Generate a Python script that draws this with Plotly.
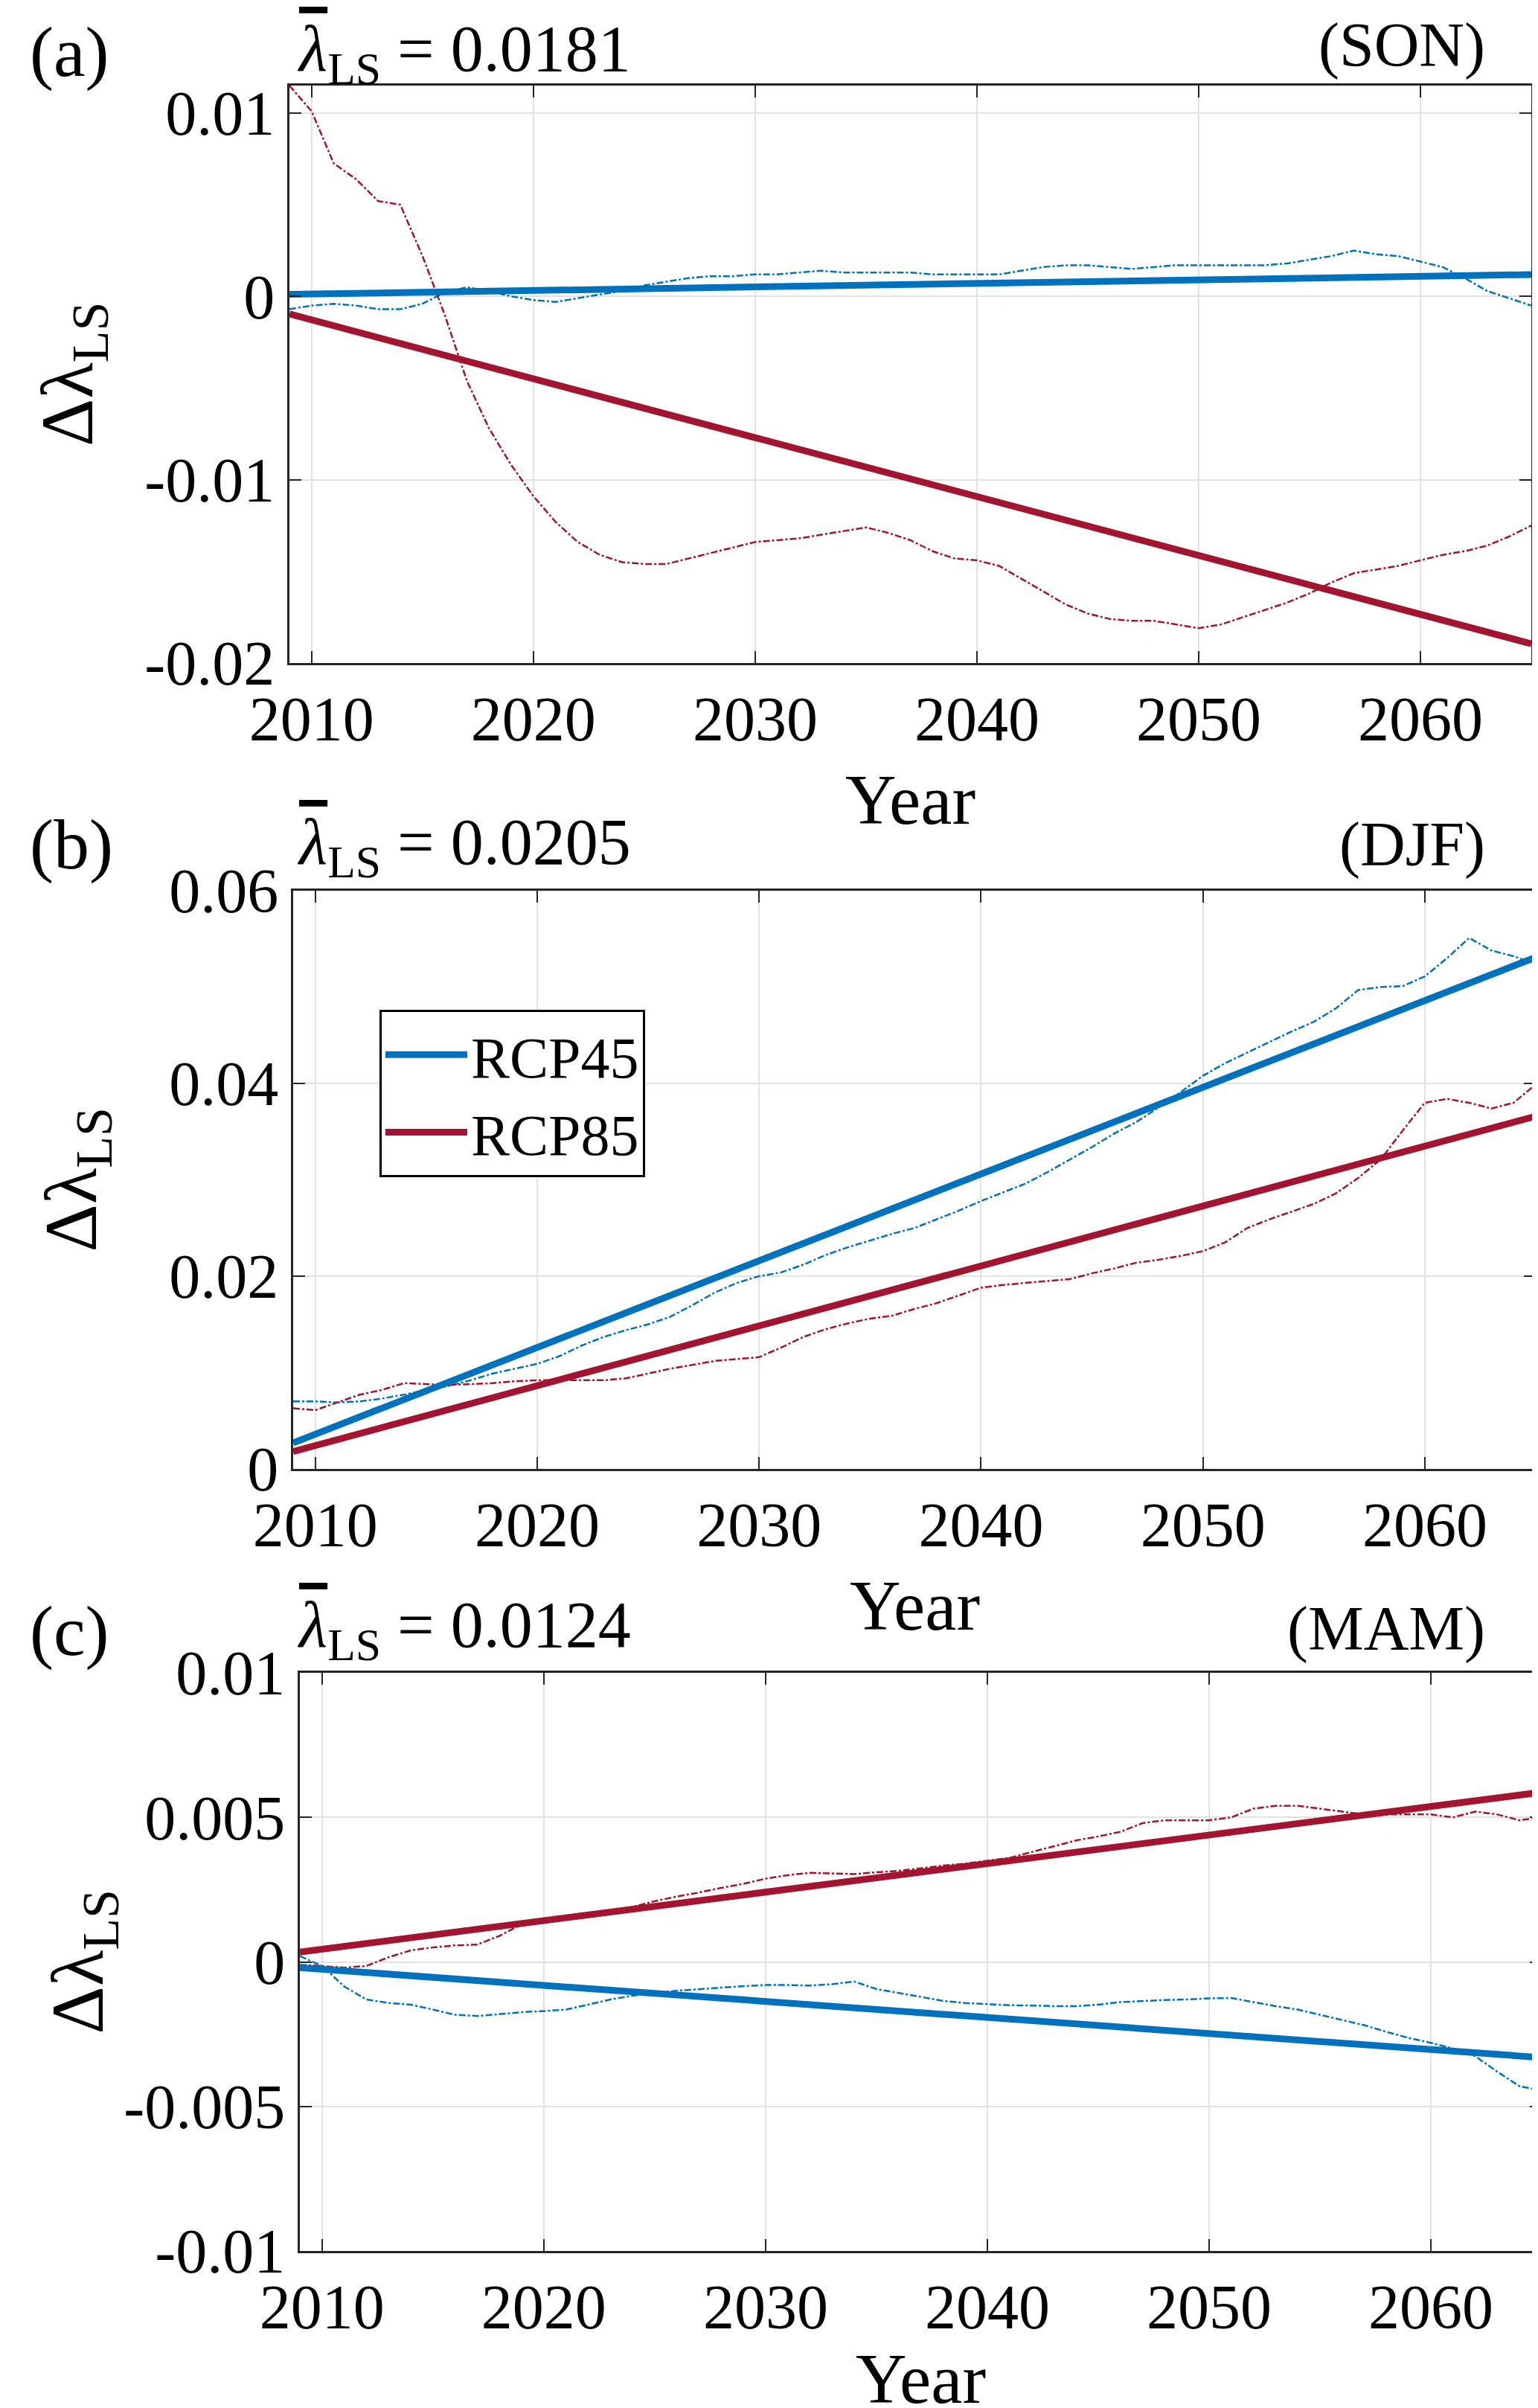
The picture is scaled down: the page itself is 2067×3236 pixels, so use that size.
import plotly.graph_objects as go

#%% Data

years = list(range(2009, 2066))
trend_years = [2009, 2065]

# (a) SON
son_rcp45 = [-0.0007, -0.0005, -0.0004, -0.0005, -0.0007, -0.0007, -0.0004, 0.0002, 0.0005, 0.0003,
             0.0000, -0.0002, -0.0003, -0.0001, 0.0001, 0.0003, 0.0006, 0.0008, 0.0010, 0.0011,
             0.0011, 0.0012, 0.0012, 0.0013, 0.0014, 0.0013, 0.0013, 0.0013, 0.0013, 0.0012,
             0.0012, 0.0012, 0.0012, 0.0014, 0.0016, 0.0017, 0.0017, 0.0016, 0.0015, 0.0016,
             0.0017, 0.0017, 0.0017, 0.0017, 0.0017, 0.0018, 0.0020, 0.0022, 0.0025, 0.0023,
             0.0022, 0.0019, 0.0016, 0.0010, 0.0003, -0.0001, -0.0005]
son_rcp85 = [0.0115, 0.0101, 0.00725, 0.0064, 0.0052, 0.0050, 0.0022, -0.0010, -0.0046, -0.0072,
             -0.0092, -0.0109, -0.0123, -0.0134, -0.0141, -0.0145, -0.0146, -0.0146, -0.0143, -0.0140,
             -0.0137, -0.0134, -0.0133, -0.0132, -0.0130, -0.0128, -0.0126, -0.0129, -0.0133, -0.0139,
             -0.0143, -0.0144, -0.0147, -0.0154, -0.0161, -0.0168, -0.0173, -0.0176, -0.0177, -0.0177,
             -0.0179, -0.0181, -0.0179, -0.0175, -0.0171, -0.0167, -0.0162, -0.0156, -0.0151, -0.0149,
             -0.0147, -0.0144, -0.0141, -0.0139, -0.0136, -0.0131, -0.0125]
son_trend45 = [0.00011, 0.00119]
son_trend85 = [-0.00096, -0.01895]

# (b) DJF
djf_rcp45 = [0.0070, 0.0070, 0.0069, 0.0070, 0.0073, 0.0077, 0.0082, 0.0086, 0.0092, 0.0099,
             0.0104, 0.0109, 0.0117, 0.0128, 0.0137, 0.0144, 0.0150, 0.0158, 0.0170, 0.0183,
             0.0193, 0.0200, 0.0204, 0.0212, 0.0222, 0.0230, 0.0237, 0.0244, 0.0250, 0.0259,
             0.0268, 0.0278, 0.0287, 0.0296, 0.0308, 0.0321, 0.0334, 0.0348, 0.0360, 0.0375,
             0.0391, 0.0408, 0.0421, 0.0432, 0.0443, 0.0454, 0.0464, 0.0478, 0.0497, 0.0500,
             0.0501, 0.0511, 0.0530, 0.0551, 0.0538, 0.0532, 0.0524]
djf_rcp85 = [0.0063, 0.0061, 0.0069, 0.0077, 0.0082, 0.0089, 0.0088, 0.0087, 0.0088, 0.0089,
             0.0091, 0.0092, 0.0092, 0.0092, 0.0092, 0.0094, 0.0099, 0.0104, 0.0108, 0.0112,
             0.0114, 0.0116, 0.0126, 0.0137, 0.0145, 0.0151, 0.0156, 0.0159, 0.0166, 0.0172,
             0.0180, 0.0188, 0.0191, 0.0193, 0.0195, 0.0197, 0.0203, 0.0208, 0.0214, 0.0217,
             0.0221, 0.0226, 0.0235, 0.0250, 0.0259, 0.0267, 0.0275, 0.0286, 0.0302, 0.0321,
             0.0351, 0.0380, 0.0384, 0.0380, 0.0374, 0.0380, 0.0399]
djf_trend45 = [0.0027, 0.0531]
djf_trend85 = [0.0018, 0.0366]

# (c) MAM
mam_rcp45 = [0.0002, -0.00014, -0.00085, -0.0013, -0.00142, -0.00148, -0.00165, -0.00183, -0.00187, -0.0018,
             -0.00174, -0.0017, -0.00165, -0.00148, -0.0013, -0.00117, -0.00107, -0.0010, -0.00094, -0.00089,
             -0.00084, -0.0008, -0.0008, -0.00082, -0.00077, -0.00068, -0.00094, -0.00107, -0.00121, -0.00135,
             -0.00142, -0.00146, -0.0015, -0.00151, -0.00153, -0.00153, -0.00148, -0.00139, -0.00135, -0.00132,
             -0.0013, -0.00126, -0.00125, -0.00139, -0.00153, -0.00165, -0.00183, -0.0020, -0.00219, -0.00242,
             -0.00263, -0.0028, -0.0030, -0.00326, -0.0038, -0.0043, -0.00445]
mam_rcp85 = [-0.0001, -0.00014, -0.0002, -0.00014, 0.00016, 0.0004, 0.0005, 0.00057, 0.0006, 0.0009,
             0.0013, 0.00146, 0.00155, 0.00164, 0.0017, 0.0019, 0.0021, 0.00226, 0.0024, 0.00256,
             0.0027, 0.00288, 0.0030, 0.00308, 0.00306, 0.00304, 0.0031, 0.00315, 0.00324, 0.00333,
             0.0034, 0.0035, 0.0036, 0.0038, 0.0040, 0.0042, 0.00434, 0.0045, 0.0048, 0.0049,
             0.0049, 0.0049, 0.0050, 0.0053, 0.0054, 0.0054, 0.0053, 0.0052, 0.0051, 0.0051,
             0.0051, 0.0051, 0.0050, 0.0052, 0.0051, 0.0049, 0.0050]
mam_trend45 = [-0.0002, -0.00331]
mam_trend85 = [0.00034, 0.00587]

panel_tags = ['(a)', '(b)', '(c)']
seasons = ['(SON)', '(DJF)', '(MAM)']
mean_lambda = ['0.0181', '0.0205', '0.0124']

x_ticks = [2010, 2020, 2030, 2040, 2050, 2060]
y_ticks_a = [0.01, 0, -0.01, -0.02]
y_text_a = ['0.01', '0', '-0.01', '-0.02']
y_ticks_b = [0, 0.02, 0.04, 0.06]
y_text_b = ['0', '0.02', '0.04', '0.06']
y_ticks_c = [0.01, 0.005, 0, -0.005, -0.01]
y_text_c = ['0.01', '0.005', '0', '-0.005', '-0.01']

#%% Figure settings

W, H = 2067, 3236
blue = '#0072BD'
red = '#A2142F'
font = 'Liberation Serif'

# plot boxes in pixels: left, right, top, bottom
boxes = [(381, 2050, 107, 883), (386, 2056, 1189, 1966), (395, 2064, 2240, 3017)]
y_ranges = [[-0.02, 0.0115], [0, 0.06], [-0.01, 0.01]]
y_ticks = [y_ticks_a, y_ticks_b, y_ticks_c]
y_texts = [y_text_a, y_text_b, y_text_c]
# vertical offset of the header texts above each box (tag, mean value, season)
head_off = [(46, 44, 54), (62, 60, 62), (57, 59, 59)]
# offset of "Year" below each box
year_off = [184, 184, 172]

panels = [
    (son_rcp45, son_rcp85, son_trend45, son_trend85),
    (djf_rcp45, djf_rcp85, djf_trend45, djf_trend85),
    (mam_rcp45, mam_rcp85, mam_trend45, mam_trend85),
]

fig = go.Figure()
annotations = []
layout = {}

for i, (r45, r85, t45, t85) in enumerate(panels):
    n = '' if i == 0 else str(i + 1)
    xa, ya = 'x' + n, 'y' + n
    show = (i == 1)
    fig.add_trace(go.Scatter(x=years, y=r45, xaxis=xa, yaxis=ya, mode='lines',
                             line=dict(color=blue, width=2.5, dash='dashdot'), showlegend=False))
    fig.add_trace(go.Scatter(x=years, y=r85, xaxis=xa, yaxis=ya, mode='lines',
                             line=dict(color=red, width=2.5, dash='dashdot'), showlegend=False))
    fig.add_trace(go.Scatter(x=trend_years, y=t45, xaxis=xa, yaxis=ya, mode='lines', name='RCP45',
                             line=dict(color=blue, width=9), showlegend=show))
    fig.add_trace(go.Scatter(x=trend_years, y=t85, xaxis=xa, yaxis=ya, mode='lines', name='RCP85',
                             line=dict(color=red, width=9), showlegend=show))

    l, r, t, b = boxes[i]
    common = dict(showline=True, linecolor='#262626', linewidth=3, mirror='ticks',
                  ticks='inside', ticklen=16, tickwidth=2, tickcolor='#262626',
                  showgrid=True, gridcolor='#e2e2e2', gridwidth=2, zeroline=False,
                  automargin=False,
                  tickfont=dict(family=font, size=84, color='black'))
    layout['xaxis' + n] = dict(common, domain=[l / W, r / W], anchor=ya, range=[2009, 2065],
                               tickvals=x_ticks)
    layout['yaxis' + n] = dict(common, domain=[1 - b / H, 1 - t / H], anchor=xa, range=y_ranges[i],
                               tickvals=y_ticks[i], ticktext=y_texts[i])

    o_tag, o_mean, o_season = head_off[i]
    # panel tag, mean value, season
    annotations.append(dict(text=panel_tags[i], x=30 / W, y=1 - (t - o_tag) / H, xref='paper', yref='paper',
                            xanchor='left', yanchor='middle', showarrow=False,
                            font=dict(family=font, size=96, color='black')))
    annotations.append(dict(text='<i><span style="text-decoration:overline">\u03bb</span></i>'
                                 '<sub>LS</sub> = ' + mean_lambda[i],
                            x=389 / W, y=1 - (t - o_mean) / H, xref='paper', yref='paper',
                            xanchor='left', yanchor='middle', showarrow=False,
                            font=dict(family=font, size=88, color='black')))
    annotations.append(dict(text=seasons[i], x=1990 / W, y=1 - (t - o_season) / H, xref='paper', yref='paper',
                            xanchor='right', yanchor='middle', showarrow=False,
                            font=dict(family=font, size=84, color='black')))
    # axis labels
    annotations.append(dict(text='Year', x=(l + r) / 2 / W, y=1 - (b + year_off[i]) / H,
                            xref='paper', yref='paper',
                            xanchor='center', yanchor='middle', showarrow=False,
                            font=dict(family=font, size=95, color='black')))
    annotations.append(dict(text='\u0394\u03bb<sub>LS</sub>', x=(l - 292) / W, y=1 - (t + b) / 2 / H,
                            xref='paper', yref='paper', xanchor='center', yanchor='middle',
                            textangle=-90, showarrow=False,
                            font=dict(family=font, size=100, color='black')))

fig.update_layout(
    width=W, height=H,
    margin=dict(l=0, r=0, t=0, b=0),
    paper_bgcolor='white', plot_bgcolor='white',
    annotations=annotations,
    legend=dict(x=502 / W, y=1 - 1349 / H, xanchor='left', yanchor='top',
                bordercolor='black', borderwidth=3, bgcolor='white',
                itemwidth=110, tracegroupgap=0,
                font=dict(family=font, size=78, color='black')),
    **layout
)

fig.write_html("out.html")
